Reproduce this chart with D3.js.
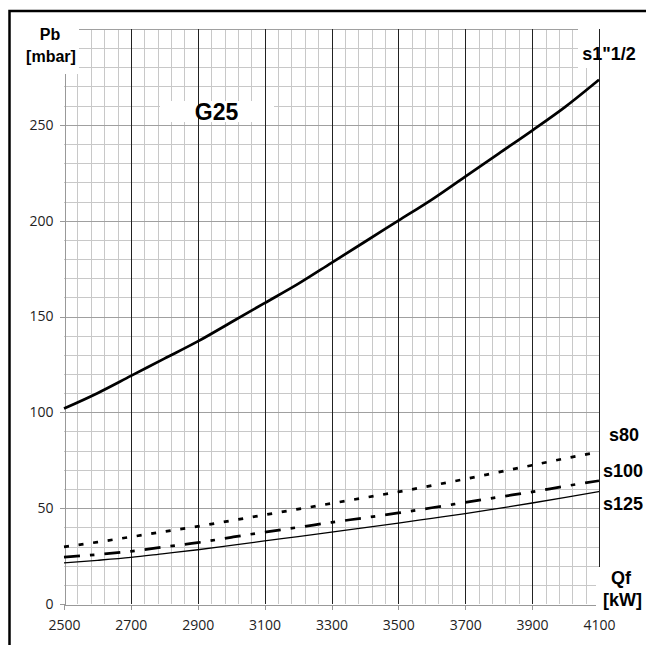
<!DOCTYPE html>
<html>
<head>
<meta charset="utf-8">
<script src="https://cdn.jsdelivr.net/npm/d3@7"></script>
<style>
  body { margin: 0; background: #fff; }
  svg { display: block; }
</style>
</head>
<body>
<svg id="chart" width="646" height="645"></svg>
<script>
var qf = [2500, 2600, 2700, 2800, 2900, 3000, 3100, 3200, 3300, 3400, 3500, 3600, 3700, 3800, 3900, 4000, 4100]
var s1 = [102, 110, 119, 128, 137, 147, 157, 167, 178, 189, 200, 211, 223, 235, 247, 259.5, 273.5]
var s80 = [29.8, 32.3, 35.0, 37.8, 40.5, 43.5, 46.5, 49.5, 52.5, 55.5, 58.5, 61.8, 65.2, 68.8, 72.4, 76.0, 79.3]
var s100 = [24.5, 25.8, 27.5, 29.8, 32.0, 34.8, 37.5, 40.0, 42.6, 45.0, 47.5, 50.2, 53.0, 55.8, 58.5, 61.5, 64.3]
var s125 = [21.5, 22.8, 24.3, 26.3, 28.3, 30.6, 32.9, 35.2, 37.5, 39.8, 42.2, 44.7, 47.2, 49.9, 52.7, 55.6, 58.7]
var xTicks = [2500, 2700, 2900, 3100, 3300, 3500, 3700, 3900, 4100]
var yTicks = [0, 50, 100, 150, 200, 250]

var svg = d3.select('#chart')

var x = d3.scaleLinear().domain([2500, 4100]).range([64, 599])
var y = d3.scaleLinear().domain([0, 300]).range([604, 29])

function px(v) { return Math.round(v) + 0.5 }

// outer frame
svg.append('rect')
    .attr('x', 9.5).attr('y', 11)
    .attr('width', 800).attr('height', 800)
    .attr('fill', 'none').attr('stroke', '#000').attr('stroke-width', 2.5)

var grid = svg.append('g').attr('shape-rendering', 'crispEdges')

// minor grid: every 40 kW and every 10 mbar
d3.range(2540, 4100, 40).forEach(function(q) {
    if ((q - 2500) % 200 === 0) return
    grid.append('line')
        .attr('x1', px(x(q))).attr('x2', px(x(q)))
        .attr('y1', y(300)).attr('y2', y(0))
        .attr('stroke', '#c8c8c8')
})
d3.range(10, 301, 10).forEach(function(p) {
    grid.append('line')
        .attr('x1', x(2500)).attr('x2', x(4100))
        .attr('y1', px(y(p))).attr('y2', px(y(p)))
        .attr('stroke', p % 50 === 0 ? '#a0a0a0' : '#c8c8c8')
})

// axes
var xAxis = svg.append('g')
    .attr('transform', 'translate(0,' + px(y(0)) + ')')
    .call(d3.axisBottom(x).tickValues(xTicks).tickFormat(d3.format('d')).tickSize(5).tickPadding(11))
var yAxis = svg.append('g')
    .attr('transform', 'translate(' + px(x(2500)) + ',0)')
    .call(d3.axisLeft(y).tickValues(yTicks).tickFormat(d3.format('d')).tickSize(5).tickPadding(8))

svg.selectAll('.domain').attr('stroke', '#999').attr('shape-rendering', 'crispEdges')
svg.selectAll('.tick line').attr('stroke', '#999').attr('shape-rendering', 'crispEdges')
svg.selectAll('.tick text')
    .attr('font-family', 'Open Sans')
    .attr('font-size', 14)
    .attr('fill', '#222')
yAxis.selectAll('.tick text').attr('x', -11)

// white label boxes hiding grid
function box(x0, y0, w, h) {
    svg.append('rect').attr('x', x0).attr('y', y0).attr('width', w).attr('height', h).attr('fill', '#fff')
}
box(20, 18, 59, 56)
box(160, 101, 114, 21)
box(578, 18, 68, 50)

// major verticals every 200 kW
xTicks.slice(1).forEach(function(q) {
    svg.append('line')
        .attr('x1', px(x(q))).attr('x2', px(x(q)))
        .attr('y1', y(300)).attr('y2', y(0))
        .attr('stroke', '#222')
        .attr('shape-rendering', 'crispEdges')
})

box(596, 567, 50, 45)

// curves
var line = d3.line().curve(d3.curveMonotoneX)
function curve(vals, width, dash) {
    var pts = qf.map(function(q, i) { return [x(q), y(vals[i])] })
    svg.append('path')
        .attr('d', line(pts))
        .attr('fill', 'none')
        .attr('stroke', '#000')
        .attr('stroke-width', width)
        .attr('stroke-dasharray', dash)
}
curve(s125, 1.3, null)
curve(s100, 2.7, '16,10,4.5,10')
curve(s80, 2.7, '5,9.7')
curve(s1, 2.7, null)

// labels
function label(t, lx, ly, size) {
    svg.append('text')
        .attr('x', lx).attr('y', ly)
        .attr('text-anchor', 'middle')
        .attr('font-family', 'Liberation Sans, Arial, sans-serif')
        .attr('font-weight', 'bold')
        .attr('font-size', size)
        .attr('fill', '#000')
        .text(t)
}
label('Pb', 50, 40, 16)
label('[mbar]', 51, 62, 16)
label('G25', 216.5, 119.5, 23)
label('s1"1/2', 609, 60, 18)
label('s80', 624, 441, 18)
label('s100', 623, 477, 18)
label('s125', 623, 510, 18)
label('Qf', 621, 584, 18)
label('[kW]', 622.5, 606, 18)
</script>
</body>
</html>
